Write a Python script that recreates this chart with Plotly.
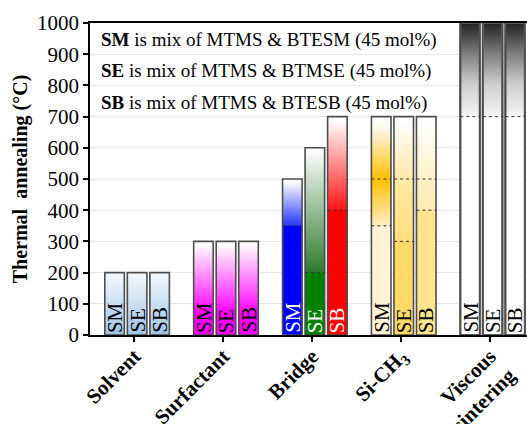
import plotly.graph_objects as go

# ---- data -------------------------------------------------------------
categories = ["Solvent", "Surfactant", "Bridge", "Si-CH<sub>3</sub>", "Viscous<br>sintering"]
samples = ["SM", "SE", "SB"]

# upper temperature limit of each sample (°C), per category
max_temp = [
    [200, 200, 200],
    [300, 300, 300],
    [500, 600, 700],
    [700, 700, 700],
    [1000, 1000, 1000],
]

# temperatures where a dotted transition line is drawn inside the bar
transitions = [
    [[], [], []],
    [[], [], []],
    [[350], [200], [400]],
    [[350, 500], [300, 500], [400, 500]],
    [[700], [700], [700]],
]

legend_lines = [
    "<b>SM</b> is mix of MTMS &amp; BTESM (45 mol%)",
    "<b>SE</b> is mix of MTMS &amp; BTMSE (45 mol%)",
    "<b>SB</b> is mix of MTMS &amp; BTESB (45 mol%)",
]

# ---- styling ----------------------------------------------------------
FONT = "'Liberation Serif', 'Times New Roman', 'DejaVu Serif', serif"
BAR_W = 0.22
PITCH = 0.2535
SHIFT = 0.03
STEP = 5

# colour ramps: (temperature, colour) stops for each bar
ramps = [
    [[(0, "#9dc3e6"), (200, "#f7fafd")]] * 3,
    [[(0, "#ff00ff"), (70, "#ff00ff"), (290, "#ffffff"), (300, "#ffffff")]] * 3,
    [
        [(0, "#0000ff"), (350, "#0000ff"), (350, "#2536ff"), (490, "#ffffff"), (500, "#ffffff")],
        [(0, "#008000"), (200, "#008000"), (200, "#2f7a2f"), (590, "#fbfcfb"), (600, "#ffffff")],
        [(0, "#ff0000"), (400, "#ff0000"), (400, "#ff1414"), (690, "#ffffff"), (700, "#ffffff")],
    ],
    [
        [(0, "#fff2d6"), (350, "#fff2d6"), (350, "#ffedc4"), (500, "#ffc000"),
         (660, "#fff8ea"), (700, "#ffffff")],
        [(0, "#ffd966"), (300, "#ffd966"), (300, "#ffdf7c"), (500, "#ffe9a6"),
         (690, "#ffffff"), (700, "#ffffff")],
        [(0, "#ffe38f"), (400, "#ffe38f"), (400, "#ffecb4"), (500, "#fff1c6"),
         (690, "#ffffff"), (700, "#ffffff")],
    ],
    [[(0, "#ffffff"), (700, "#ffffff"), (700, "#f4f4f4"), (800, "#d0d0d0"),
      (900, "#808080"), (1000, "#222222")]] * 3,
]
label_colours = ["black", "black", "white", "black", "black"]


def hex_rgb(h):
    h = h.lstrip("#")
    return [int(h[i:i + 2], 16) for i in (0, 2, 4)]


def colour_at(stops, t):
    for (t0, c0), (t1, c1) in zip(stops[:-1], stops[1:]):
        if t0 <= t <= t1 and t1 > t0:
            f = (t - t0) / (t1 - t0)
            a, b = hex_rgb(c0), hex_rgb(c1)
            r = [round(a[k] + (b[k] - a[k]) * f) for k in range(3)]
            return f"rgb({r[0]},{r[1]},{r[2]})"
    return stops[-1][1]


seg_x, seg_base, seg_h, seg_c = [], [], [], []
dot_x, dot_y = [], []
bar_x, bar_top, bar_text, bar_tc = [], [], [], []
vis_x, vis_top = [], []

for ci, cat in enumerate(categories):
    for si, s in enumerate(samples):
        xc = ci + SHIFT + (si - 1) * PITCH
        top = max_temp[ci][si]
        stops = ramps[ci][si]
        t = 0
        while t < top:
            seg_x.append(xc)
            seg_base.append(t)
            seg_h.append(min(STEP * 1.6, top - t))
            seg_c.append(colour_at(stops, t + STEP / 2))
            t += STEP
        for tr in transitions[ci][si]:
            dot_x += [xc - BAR_W / 2, xc + BAR_W / 2, None]
            dot_y += [tr, tr, None]
        if ci == len(categories) - 1:
            vis_x.append(xc)
            vis_top.append(top)
        bar_x.append(xc)
        bar_top.append(top)
        bar_text.append(s)
        bar_tc.append(label_colours[ci])

fig = go.Figure()

# gradient fill built from thin stacked slices
fig.add_trace(go.Bar(
    x=seg_x, y=seg_h, base=seg_base, width=BAR_W,
    marker=dict(color=seg_c, line=dict(width=0)),
    hoverinfo="skip", showlegend=False,
))

# dotted transition markers
fig.add_trace(go.Scatter(
    x=dot_x, y=dot_y, mode="lines",
    line=dict(color="#333333", width=1, dash="dot"),
    hoverinfo="skip", showlegend=False,
))

# double border for the sintering bars
fig.add_trace(go.Bar(
    x=vis_x, y=vis_top, width=BAR_W,
    marker=dict(color="rgba(0,0,0,0)", line=dict(color="#5a5a5a", width=2.2)),
    hoverinfo="skip", showlegend=False,
))
fig.add_trace(go.Bar(
    x=vis_x, y=vis_top, width=BAR_W,
    marker=dict(color="rgba(0,0,0,0)", line=dict(color="#d0d0d0", width=0.7)),
    hoverinfo="skip", showlegend=False,
))

# bar outlines
fig.add_trace(go.Bar(
    x=bar_x, y=bar_top, width=BAR_W,
    marker=dict(color="rgba(0,0,0,0)", line=dict(color="#4d4d4d", width=1.6)),
    hoverinfo="skip", showlegend=False,
))

# sample labels, rotated at the foot of each bar
for xc, s, col in zip(bar_x, bar_text, bar_tc):
    fig.add_annotation(
        x=xc, y=0, xref="x", yref="y", text=s, textangle=-90,
        xanchor="center", yanchor="bottom", yshift=0, showarrow=False,
        font=dict(family=FONT, size=21, color=col),
    )

for i, line in enumerate(legend_lines):
    fig.add_annotation(
        xref="paper", yref="y", x=0.021, y=945 - 100 * i,
        xanchor="left", yanchor="middle", showarrow=False,
        text=line, font=dict(family=FONT, size=19, color="black"),
    )

fig.update_layout(
    width=527, height=424,
    margin=dict(l=90, r=0, t=23, b=89),
    paper_bgcolor="white", plot_bgcolor="white",
    barmode="overlay", showlegend=False,
    font=dict(family=FONT, color="black"),
)
fig.update_xaxes(
    range=[-0.5, 4.417], tickvals=list(range(len(categories))), ticktext=[f"<b>{c}</b>" for c in categories],
    tickangle=-45, tickfont=dict(family=FONT, size=21, color="black"),
    ticklabelstandoff=-6, automargin=False,
    showline=True, linecolor="black", linewidth=1.5, mirror=True,
    ticks="outside", ticklen=5, tickwidth=1.5, tickcolor="black",
    showgrid=False, zeroline=False,
)
fig.update_yaxes(
    range=[0, 1000], dtick=100, automargin=False,
    tickfont=dict(family=FONT, size=21, color="black"),
    title=dict(text="<b>Thermal  annealing (°C)</b>", font=dict(family=FONT, size=20, color="black"), standoff=4),
    showline=True, linecolor="black", linewidth=1.5,
    ticks="outside", ticklen=5, tickwidth=1.5, tickcolor="black",
    showgrid=True, gridcolor="#e6e6e6", gridwidth=1, zeroline=False,
)

fig.write_html("out.html")
